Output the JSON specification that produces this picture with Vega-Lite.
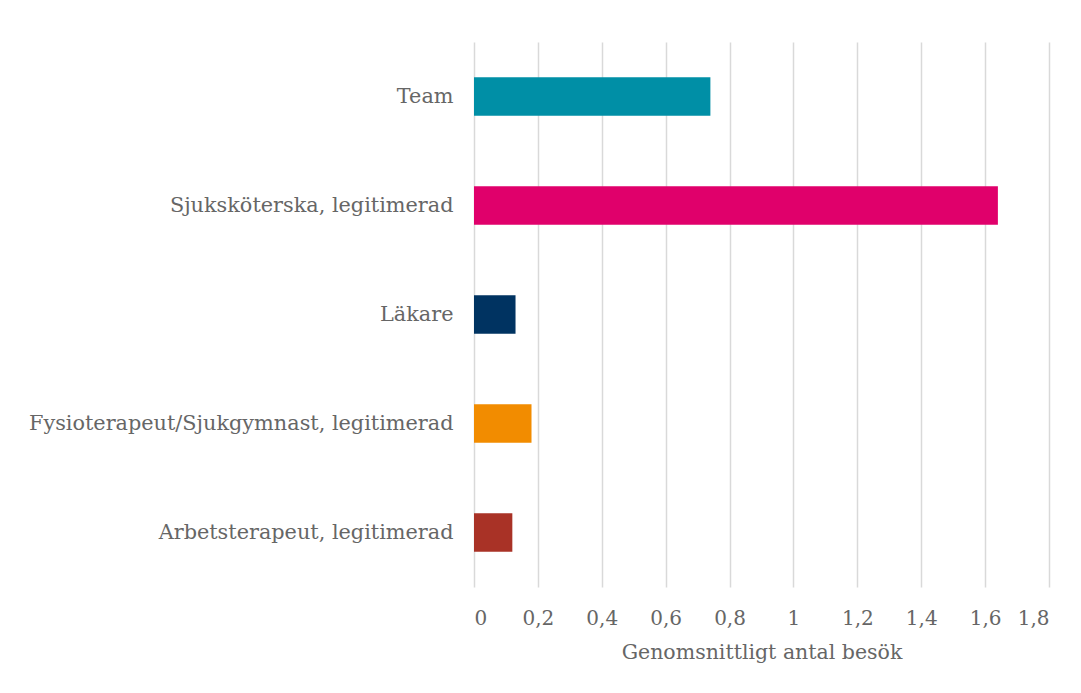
{
  "$schema": "https://vega.github.io/schema/vega-lite/v6.json",
  "width": 575,
  "height": 545,
  "autosize": {"type": "none"},
  "padding": {"left": 474, "top": 42, "right": 32, "bottom": 106},
  "background": "white",
  "config": {
    "view": {"stroke": null},
    "font": "DejaVu Serif"
  },
  "data": {
    "values": [
      {"yrke": "Team", "besok": 0.74},
      {"yrke": "Sjuksköterska, legitimerad", "besok": 1.64},
      {"yrke": "Läkare", "besok": 0.13},
      {"yrke": "Fysioterapeut/Sjukgymnast, legitimerad", "besok": 0.18},
      {"yrke": "Arbetsterapeut, legitimerad", "besok": 0.12}
    ]
  },
  "mark": {"type": "bar"},
  "encoding": {
    "y": {
      "field": "yrke",
      "type": "nominal",
      "sort": null,
      "scale": {"paddingInner": 0.647, "paddingOuter": 0.3235},
      "axis": {
        "title": null,
        "domain": false,
        "ticks": false,
        "labelPadding": 21,
        "labelFont": "DejaVu Serif",
        "labelFontSize": 20.8,
        "labelColor": "#666666",
        "labelLimit": 500
      }
    },
    "x": {
      "field": "besok",
      "type": "quantitative",
      "scale": {"domain": [0, 1.8], "nice": false},
      "axis": {
        "values": [0, 0.2, 0.4, 0.6, 0.8, 1, 1.2, 1.4, 1.6, 1.8],
        "format": "~g",
        "labelExpr": "replace(datum.label, '.', ',')",
        "domain": false,
        "ticks": false,
        "grid": true,
        "gridColor": "#d9d9d9",
        "gridWidth": 1.5,
        "labelPadding": 21,
        "labelFont": "DejaVu Serif",
        "labelFontSize": 20,
        "labelColor": "#666666",
        "title": "Genomsnittligt antal besök",
        "titleFont": "DejaVu Serif",
        "titleFontSize": 20.5,
        "titleFontWeight": "normal",
        "titleColor": "#666666",
        "titlePadding": 14
      }
    },
    "color": {
      "field": "yrke",
      "type": "nominal",
      "legend": null,
      "scale": {
        "domain": ["Team", "Sjuksköterska, legitimerad", "Läkare", "Fysioterapeut/Sjukgymnast, legitimerad", "Arbetsterapeut, legitimerad"],
        "range": ["#008FA6", "#E0006B", "#003361", "#F28C00", "#A93226"]
      }
    }
  }
}
